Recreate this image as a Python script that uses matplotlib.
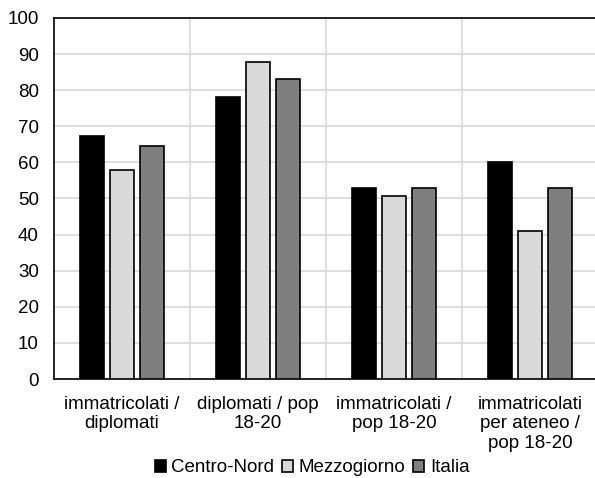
import matplotlib
matplotlib.use("Agg")
import matplotlib.pyplot as plt
import numpy as np

plt.rcParams['font.family'] = ['Liberation Sans', 'DejaVu Sans']

categories = ["immatricolati /\ndiplomati", "diplomati / pop\n18-20",
              "immatricolati /\npop 18-20", "immatricolati\nper ateneo /\npop 18-20"]
series_names = ["Centro-Nord", "Mezzogiorno", "Italia"]
centro_nord = [67.2, 78.2, 52.8, 60.1]
mezzogiorno = [57.9, 87.8, 50.8, 41.0]
italia = [64.6, 83.2, 52.9, 52.9]
yticks = list(range(0, 101, 10))

colors = ["#000000", "#d9d9d9", "#7f7f7f"]

fig = plt.figure(figsize=(5.95, 4.78), dpi=100)
ax = fig.add_axes([54/595, 1 - 379/478, 544/595, 361/478])

x = np.arange(len(categories))
width = 0.176
step = 0.22
for i, (vals, name, c) in enumerate(zip([centro_nord, mezzogiorno, italia], series_names, colors)):
    ax.bar(x + (i - 1) * step, vals, width, color=c, edgecolor="#000000",
           linewidth=1.2, label=name, zorder=3)

ax.set_xlim(-0.5, len(categories) - 0.5)
ax.set_ylim(0, 100)
ax.set_yticks(yticks)
ax.set_xticks(x)
ax.set_xticklabels(categories, fontsize=13.5, linespacing=1.2)
ax.tick_params(axis='y', labelsize=13.5, length=0, pad=11)
ax.tick_params(axis='x', length=0, pad=12)

# gridlines: horizontal at ticks, vertical at category boundaries
ax.set_axisbelow(True)
ax.yaxis.grid(True, color="#d9d9d9", linewidth=1.2)
for b in np.arange(0.5, len(categories) - 0.5, 1.0):
    ax.axvline(b, color="#d9d9d9", linewidth=1.2, zorder=0)

for s in ["left", "bottom", "top"]:
    ax.spines[s].set_color("#000000")
    ax.spines[s].set_linewidth(1.2)
ax.spines["right"].set_visible(False)

leg = fig.legend(loc="center", bbox_to_anchor=(312/595, 1 - 468/478), ncol=3,
                 frameon=False, fontsize=13.5, handlelength=0.6, handleheight=0.6,
                 handletextpad=0.3, columnspacing=0.4)

fig.savefig("out.png", dpi=100)
